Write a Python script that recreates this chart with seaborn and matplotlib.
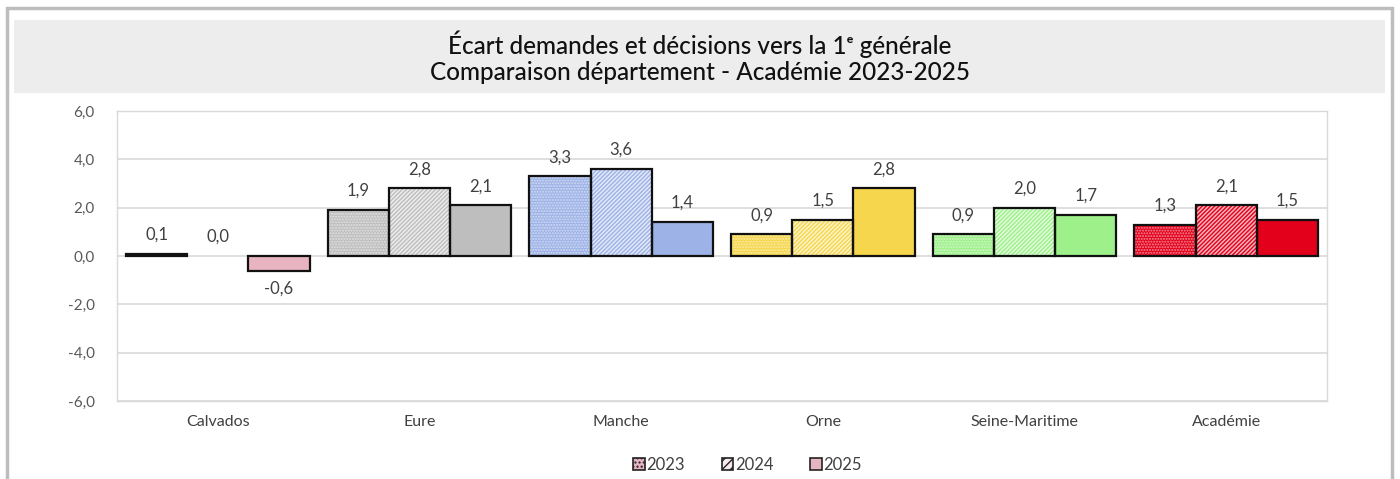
import matplotlib
matplotlib.use("Agg")
import matplotlib.pyplot as plt
from matplotlib.patches import Rectangle, Patch
from matplotlib.colors import to_rgb
import pandas as pd
import seaborn as sns

# Data
categories = ["Calvados", "Eure", "Manche", "Orne", "Seine-Maritime", "Académie"]
years = ["2023", "2024", "2025"]
values_2023 = [0.1, 1.9, 3.3, 0.9, 0.9, 1.3]
values_2024 = [0.0, 2.8, 3.6, 1.5, 2.0, 2.1]
values_2025 = [-0.6, 2.1, 1.4, 2.8, 1.7, 1.5]
category_colors = ["#E8B4C2", "#BEBEBE", "#9DB2E6", "#F5D64C", "#9DF08A", "#E3001B"]
y_ticks = [-6, -4, -2, 0, 2, 4, 6]

df = pd.DataFrame({
    "cat": categories * 3,
    "year": [y for y in years for _ in categories],
    "val": values_2023 + values_2024 + values_2025,
})

sns.set_theme(style="white")
plt.rcParams["font.family"] = ["Lato", "DejaVu Sans"]

fig = plt.figure(figsize=(14, 4.79), dpi=100)
ax = fig.add_axes([0.0836, 0.1628, 0.8643, 0.6054])

sns.barplot(data=df, x="cat", y="val", hue="year", order=categories,
            hue_order=years, errorbar=None, width=0.91, ax=ax,
            legend=False, saturation=1)


def blend(c, amount):
    r, g, b = to_rgb(c)
    return (r + (1 - r) * amount, g + (1 - g) * amount, b + (1 - b) * amount)


def style_bar(patch, base, kind):
    if kind == 0:      # dotted pattern
        patch.set_facecolor(base)
        patch.set_edgecolor(blend(base, 0.55))
        patch.set_hatch("......")
    elif kind == 1:    # light diagonal stripes
        patch.set_facecolor(blend(base, 0.7))
        patch.set_edgecolor(base)
        patch.set_hatch("////////")
    else:              # solid
        patch.set_facecolor(base)
        patch.set_edgecolor(base)
    patch.set_linewidth(0)


for k, cont in enumerate(ax.containers):
    for i, p in enumerate(cont.patches):
        style_bar(p, category_colors[i], k)
        h = p.get_height()
        if h != 0:
            ax.add_patch(Rectangle((p.get_x(), p.get_y()), p.get_width(), h,
                                   facecolor="none", edgecolor="#111111",
                                   linewidth=1.6, zorder=3))
        v = cont.datavalues[i]
        label = f"{v:.1f}".replace(".", ",")
        xc = p.get_x() + p.get_width() / 2
        if v >= 0:
            ax.annotate(label, (xc, v), xytext=(0, 8), textcoords="offset points",
                        ha="center", va="bottom", fontsize=12, color="#404040")
        else:
            ax.annotate(label, (xc, v), xytext=(0, -7), textcoords="offset points",
                        ha="center", va="top", fontsize=12, color="#404040")

ax.set_ylim(-6, 6)
ax.set_yticks(y_ticks)
ax.set_yticklabels([f"{t:.1f}".replace(".", ",") for t in y_ticks],
                   fontsize=11, color="#595959")
ax.set_xlim(-0.5, len(categories) - 0.5)
ax.tick_params(axis="x", labelsize=11.5, colors="#404040", length=0, pad=10)
ax.tick_params(axis="y", length=0, pad=16)
ax.set_xlabel("")
ax.set_ylabel("")
ax.grid(axis="y", color="#D9D9D9", linewidth=1.2, zorder=0)
ax.set_axisbelow(True)
for s in ax.spines.values():
    s.set_color("#D9D9D9")
    s.set_linewidth(1.0)

# Legend
base = category_colors[0]
leg_handles = []
for k, yr in enumerate(years):
    if k == 0:
        hp = Patch(facecolor=base, edgecolor="#222222", hatch="....", label=yr, linewidth=1.2)
    elif k == 1:
        hp = Patch(facecolor=blend(base, 0.7), edgecolor="#222222", hatch="////", label=yr, linewidth=1.2)
    else:
        hp = Patch(facecolor=base, edgecolor="#222222", label=yr, linewidth=1.2)
    leg_handles.append(hp)
fig.legend(handles=leg_handles, loc="center", bbox_to_anchor=(0.534, 0.03),
           ncol=3, frameon=False, fontsize=12, handlelength=0.7,
           handleheight=0.7, handletextpad=0.1, columnspacing=2.2,
           labelcolor="#404040")

# Frame and title band
fig.patches.append(Rectangle((7 / 1400, -0.1), 1385 / 1400, 1.1 - 8 / 479,
                             transform=fig.transFigure, facecolor="none",
                             edgecolor="#BDBDBD", linewidth=2.5, zorder=0))
fig.patches.append(Rectangle((14 / 1400, 1 - 93 / 479), 1371 / 1400, 73 / 479,
                             transform=fig.transFigure, facecolor="#EDEDED",
                             edgecolor="none", zorder=0))
fig.text(0.5, 1 - 44 / 479, "Écart demandes et décisions vers la 1ᵉ générale",
         ha="center", va="center", fontsize=17.5, color="#111111", fontweight="medium")
fig.text(0.5, 1 - 73 / 479, "Comparaison département - Académie 2023-2025",
         ha="center", va="center", fontsize=17.5, color="#111111", fontweight="medium")

fig.savefig("out.png", dpi=100, facecolor="white")
